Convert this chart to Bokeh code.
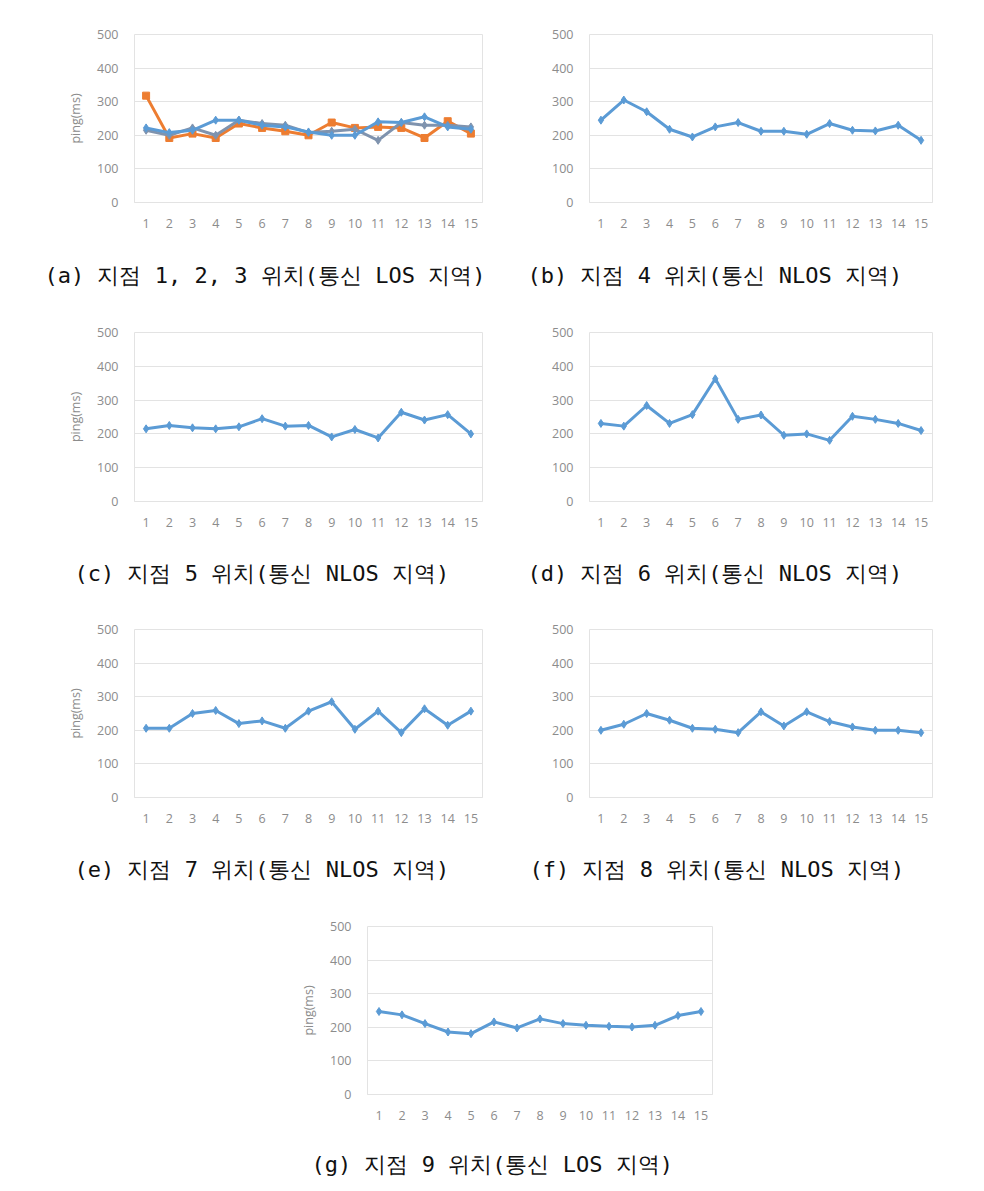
from bokeh.plotting import figure
from bokeh.models import Label, Range1d, FixedTicker
from bokeh.layouts import column, row
from bokeh.embed import file_html
from bokeh.resources import INLINE

# ---- data ----
runs = list(range(1, 15 + 1))
y_ticks = [0, 100, 200, 300, 400, 500]

a_orange = [318, 192, 205, 192, 235, 222, 212, 200, 238, 222, 225, 222, 192, 242, 205]
a_gray = [215, 200, 222, 200, 245, 235, 230, 208, 212, 218, 185, 238, 230, 230, 225]
a_blue = [222, 208, 215, 245, 245, 230, 225, 210, 200, 200, 240, 238, 255, 225, 218]
b_vals = [245, 305, 270, 218, 195, 225, 238, 212, 212, 203, 235, 215, 213, 230, 185]
c_vals = [215, 225, 218, 215, 221, 245, 223, 225, 191, 213, 188, 264, 241, 257, 200]
d_vals = [231, 223, 284, 231, 257, 363, 243, 256, 196, 200, 181, 252, 243, 231, 210]
e_vals = [206, 206, 250, 259, 220, 228, 206, 257, 285, 203, 257, 193, 264, 215, 257]
f_vals = [200, 218, 250, 230, 206, 203, 193, 255, 213, 255, 226, 210, 200, 200, 193]
g_vals = [247, 237, 211, 186, 181, 216, 198, 225, 211, 206, 203, 201, 206, 235, 247]

captions = {
    "a": "(a) 지점 1, 2, 3 위치(통신 LOS 지역)",
    "b": "(b) 지점 4 위치(통신 NLOS 지역)",
    "c": "(c) 지점 5 위치(통신 NLOS 지역)",
    "d": "(d) 지점 6 위치(통신 NLOS 지역)",
    "e": "(e) 지점 7 위치(통신 NLOS 지역)",
    "f": "(f) 지점 8 위치(통신 NLOS 지역)",
    "g": "(g) 지점 9 위치(통신 LOS 지역)",
}
y_label = "ping(ms)"

BLUE = "#5B9BD5"
ORANGE = "#ED7D31"
GRAY = "#7F93AE"
TICK_COL = "#8C8C8C"
GRID_COL = "#E3E3E3"
TICK_FONT = "Open Sans"
CAP_FONT = "DejaVu Sans Mono"


def make(width, height, bl, br, bt, bb, ylab):
    p = figure(width=width, height=height,
               x_range=Range1d(0.5, 15.5), y_range=Range1d(0, 500),
               output_backend="svg", toolbar_location=None,
               min_border_left=bl, min_border_right=br,
               min_border_top=bt, min_border_bottom=bb)
    p.outline_line_color = GRID_COL
    p.xgrid.grid_line_color = None
    p.ygrid.grid_line_color = GRID_COL
    p.ygrid.ticker = FixedTicker(ticks=y_ticks)

    p.xaxis.ticker = FixedTicker(ticks=runs)
    p.xaxis.axis_line_color = GRID_COL
    p.xaxis.major_tick_line_color = None
    p.xaxis.minor_tick_line_color = None
    p.xaxis.major_label_text_color = TICK_COL
    p.xaxis.major_label_text_font = TICK_FONT
    p.xaxis.major_label_text_font_size = "12.5px"
    p.xaxis.major_label_standoff = 10

    p.yaxis.ticker = FixedTicker(ticks=y_ticks)
    p.yaxis.axis_line_color = None
    p.yaxis.major_tick_line_color = None
    p.yaxis.minor_tick_line_color = None
    p.yaxis.major_label_text_color = TICK_COL
    p.yaxis.major_label_text_font = TICK_FONT
    p.yaxis.major_label_text_font_size = "12.5px"
    p.yaxis.major_label_standoff = 10
    if ylab:
        p.yaxis.axis_label = y_label
        p.yaxis.axis_label_text_color = TICK_COL
        p.yaxis.axis_label_text_font = TICK_FONT
        p.yaxis.axis_label_text_font_size = "12.5px"
        p.yaxis.axis_label_text_font_style = "normal"
        p.yaxis.axis_label_standoff = 10
    return p


def caption_fig(width, height, text, dx, dy):
    c = figure(width=width, height=height,
               x_range=Range1d(0, 1), y_range=Range1d(0, 1),
               x_axis_type=None, y_axis_type=None,
               output_backend="svg", toolbar_location=None,
               min_border_left=0, min_border_right=0,
               min_border_top=0, min_border_bottom=0)
    c.outline_line_color = None
    c.grid.visible = False
    c.add_layout(Label(x=dx, y=height - dy, x_units="screen", y_units="screen",
                       text=text, text_align="left", text_baseline="middle",
                       text_font=CAP_FONT, text_font_size="22px",
                       text_color="#111111"))
    return c


def series(p, vals, color, marker, size):
    p.line(runs, vals, line_color=color, line_width=3)
    p.scatter(runs, vals, marker=marker, size=size, fill_color=color, line_color=color)


# left column: frame x 135..483 ; right column: frame x 590..933
pa = make(499, 242, 134, 17, 34, 40, True)
series(pa, a_orange, ORANGE, "square", 7)
series(pa, a_gray, GRAY, "diamond", 8)
series(pa, a_blue, BLUE, "diamond", 8)
pb = make(460, 242, 90, 27, 34, 40, False)
series(pb, b_vals, BLUE, "diamond", 8)
ca = caption_fig(499, 57, captions["a"], 44, 33)
cb = caption_fig(460, 57, captions["b"], 28, 33)

pc = make(499, 242, 134, 17, 33, 40, True)
series(pc, c_vals, BLUE, "diamond", 8)
pd = make(460, 242, 90, 27, 33, 40, False)
series(pd, d_vals, BLUE, "diamond", 8)
cc = caption_fig(499, 56, captions["c"], 74, 32)
cd = caption_fig(460, 56, captions["d"], 28, 32)

pe = make(499, 240, 134, 17, 32, 40, True)
series(pe, e_vals, BLUE, "diamond", 8)
pf = make(460, 240, 90, 27, 32, 40, False)
series(pf, f_vals, BLUE, "diamond", 8)
ce = caption_fig(499, 57, captions["e"], 74, 32)
cf = caption_fig(460, 57, captions["f"], 30, 32)

pg = make(727, 240, 367, 15, 32, 40, True)
series(pg, g_vals, BLUE, "diamond", 8)
cg = caption_fig(727, 48, captions["g"], 311, 30)

layout = column(row(pa, pb), row(ca, cb),
                row(pc, pd), row(cc, cd),
                row(pe, pf), row(ce, cf),
                row(pg), row(cg))

open("out.html", "w").write(file_html(layout, INLINE))
